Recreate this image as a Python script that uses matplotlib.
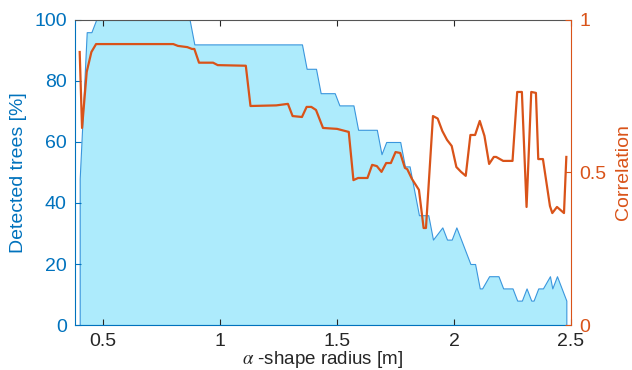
import matplotlib
matplotlib.use("Agg")
import matplotlib.pyplot as plt

# Detected trees (%) vs alpha-shape radius
radius_trees = [0.40, 0.43, 0.45, 0.47, 0.87, 0.89, 1.35, 1.37, 1.41, 1.43,
                1.49, 1.51, 1.57, 1.59, 1.67, 1.69, 1.71, 1.77, 1.79, 1.81,
                1.83, 1.85, 1.89, 1.91, 1.95, 1.97, 1.99, 2.01, 2.07, 2.09,
                2.11, 2.12, 2.15, 2.19, 2.21, 2.25, 2.27, 2.29, 2.31, 2.33,
                2.34, 2.36, 2.38, 2.41, 2.42, 2.44, 2.48]
detected = [48, 96, 96, 100, 100, 92, 92, 84, 84, 76,
            76, 72, 72, 64, 64, 56, 60, 60, 52, 52,
            44, 36, 36, 28, 32, 28, 28, 32, 20, 20,
            12, 12, 16, 16, 12, 12, 8, 8, 12, 8,
            8, 12, 12, 16, 12, 16, 8]

# Correlation vs alpha-shape radius
radius_corr = [0.40, 0.41, 0.43, 0.45, 0.47, 0.80, 0.82, 0.86, 0.88, 0.89,
               0.91, 0.97, 0.99, 1.11, 1.13, 1.24, 1.29, 1.31, 1.35, 1.37,
               1.39, 1.41, 1.44, 1.50, 1.55, 1.57, 1.59, 1.63, 1.65, 1.67,
               1.69, 1.71, 1.73, 1.75, 1.77, 1.79, 1.80, 1.82, 1.85, 1.87,
               1.88, 1.91, 1.93, 1.95, 1.97, 1.99, 2.01, 2.03, 2.05, 2.07,
               2.09, 2.11, 2.13, 2.15, 2.17, 2.18, 2.21, 2.25, 2.27, 2.29,
               2.31, 2.33, 2.35, 2.36, 2.38, 2.41, 2.42, 2.44, 2.47, 2.48]
correlation = [0.895, 0.646, 0.83, 0.895, 0.921, 0.921, 0.915, 0.911, 0.905, 0.905,
               0.86, 0.86, 0.852, 0.85, 0.718, 0.72, 0.725, 0.685, 0.682, 0.715,
               0.715, 0.705, 0.646, 0.643, 0.633, 0.475, 0.482, 0.482, 0.525, 0.521,
               0.502, 0.531, 0.531, 0.567, 0.564, 0.515, 0.511, 0.479, 0.443, 0.318,
               0.318, 0.685, 0.677, 0.636, 0.607, 0.587, 0.518, 0.502, 0.489, 0.623,
               0.623, 0.669, 0.62, 0.528, 0.551, 0.551, 0.538, 0.538, 0.764, 0.764,
               0.387, 0.764, 0.761, 0.544, 0.544, 0.39, 0.367, 0.387, 0.367, 0.551]

x_ticks = [0.5, 1, 1.5, 2, 2.5]
x_ticklabels = ["0.5", "1", "1.5", "2", "2.5"]
left_ticks = [0, 20, 40, 60, 80, 100]
right_ticks = [0, 0.5, 1]
right_ticklabels = ["0", "0.5", "1"]

blue = "#0072BD"
orange = "#D95319"
dark = "#262626"

plt.rcParams["font.family"] = ["Liberation Sans", "DejaVu Sans"]
plt.rcParams["mathtext.fontset"] = "stix"

fig = plt.figure(figsize=(6.32, 3.70), dpi=100)
ax = fig.add_axes([0.1187, 0.1216, 0.7848, 0.8244])

# filled area for detected trees
ax.fill_between(radius_trees, detected, 0, facecolor="#ADEBFC",
                edgecolor="#3A96DD", linewidth=0.8)
ax.set_xlim(0.38, 2.5)
ax.set_ylim(0, 100)
ax.set_xticks(x_ticks)
ax.set_xticklabels(x_ticklabels)
ax.set_yticks(left_ticks)
ax.xaxis.set_ticks_position("both")
ax.yaxis.set_ticks_position("both")
ax.tick_params(axis="x", direction="in", length=4, width=0.8, colors=dark,
               labelsize=14, pad=6)
ax.tick_params(axis="y", direction="in", length=4, width=0.8, colors=blue,
               labelsize=14, pad=6)
ax.set_ylabel("Detected trees [%]", color=blue, fontsize=14, labelpad=5)
ax.set_xlabel(r"$\alpha$ -shape radius [m]", color=dark, fontsize=13.5)
ax.xaxis.set_label_coords(0.5, -0.078)
ax.spines["left"].set_color(blue)
ax.spines["top"].set_color("#555555")
ax.spines["bottom"].set_color(blue)
ax.spines["right"].set_visible(False)
for s in ax.spines.values():
    s.set_linewidth(0.8)

# correlation on right axis
ax2 = ax.twinx()
ax2.plot(radius_corr, correlation, color=orange, linewidth=1.6)
ax2.set_ylim(0, 1)
ax2.set_yticks(right_ticks)
ax2.set_yticklabels(right_ticklabels)
ax2.tick_params(axis="y", direction="in", length=4, width=0.8, colors=orange,
                labelsize=14, pad=6)
ax2.set_ylabel("Correlation", color=orange, fontsize=14, labelpad=6)
for name in ["left", "top", "bottom"]:
    ax2.spines[name].set_visible(False)
ax2.spines["right"].set_color(orange)
ax2.spines["right"].set_linewidth(0.8)

fig.savefig("out.png", dpi=100)
